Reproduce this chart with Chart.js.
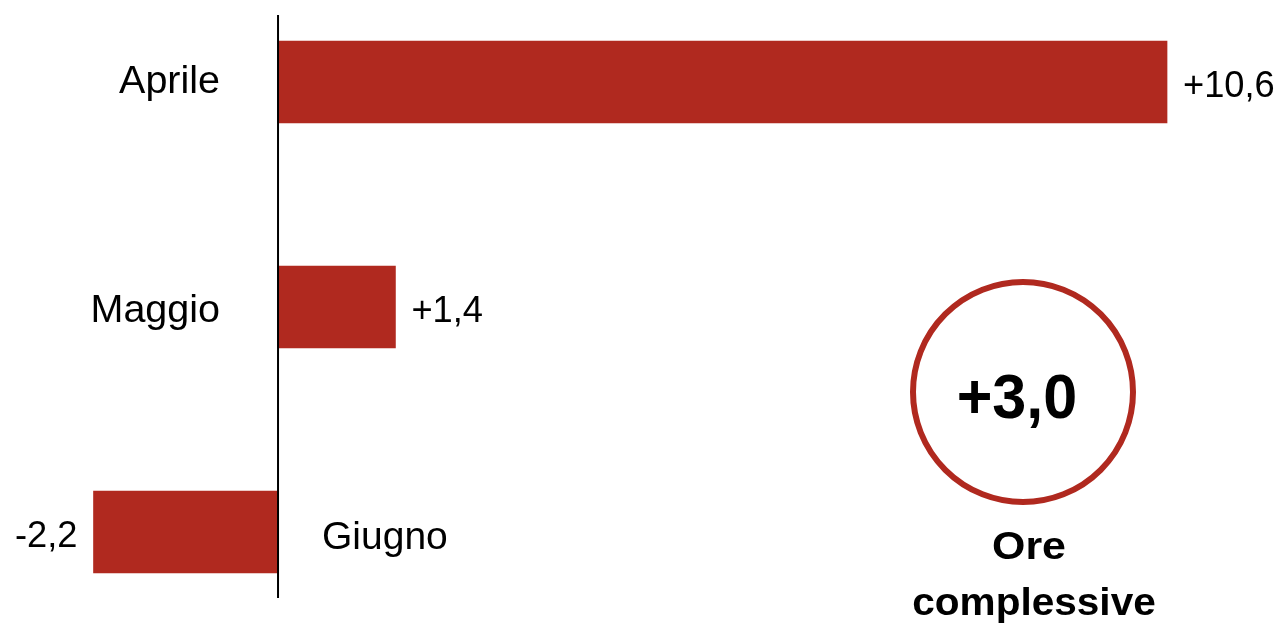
<!DOCTYPE html>
<html>
<head>
<meta charset="utf-8">
<script src="https://cdn.jsdelivr.net/npm/chart.js@4.4.1/dist/chart.umd.min.js"></script>
<style>
  html, body { margin: 0; padding: 0; background: #fff; }
  #wrap { width: 1280px; height: 624px; position: relative; }
</style>
</head>
<body>
<div id="wrap"><canvas id="oreChart"></canvas></div>
<script>
// Dati: variazione ore per mese
const mesi = ['Aprile', 'Maggio', 'Giugno'];
const variazioni = [10.6, 1.4, -2.2];
const totaleOre = 3.0;
const etichettaTotale = ['Ore', 'complessive'];

const rosso = '#b0291f';
const FONT = '"Liberation Sans", Arial, sans-serif';

// formato italiano con segno
function fmt(v) {
  const s = Math.abs(v).toFixed(1).replace('.', ',');
  return (v > 0 ? '+' : '-') + s;
}

// testo con eventuale allargamento orizzontale
function testo(ctx, t, x, y, align, font, sx) {
  ctx.save();
  ctx.translate(x, y);
  ctx.scale(sx, 1);
  ctx.font = font;
  ctx.textAlign = align;
  ctx.fillText(t, 0, 0);
  ctx.restore();
}

// asse verticale, etichette e cerchio del totale
const etichettePlugin = {
  id: 'etichette',
  afterDatasetsDraw(chart) {
    const ctx = chart.ctx;
    const xs = chart.scales.x;
    const ys = chart.scales.y;
    const x0 = xs.getPixelForValue(0);
    const spostaNome = [11, 15, 17]; // scarto della linea di base dei nomi

    ctx.save();
    // linea dello zero
    ctx.strokeStyle = '#000';
    ctx.lineWidth = 2;
    ctx.beginPath();
    ctx.moveTo(x0, 15);
    ctx.lineTo(x0, 598);
    ctx.stroke();

    ctx.fillStyle = '#000';
    ctx.textBaseline = 'alphabetic';
    mesi.forEach((m, i) => {
      const v = variazioni[i];
      const y = ys.getPixelForValue(i);
      const xe = xs.getPixelForValue(v);
      if (v >= 0) {
        testo(ctx, m, x0 - 58, y + spostaNome[i], 'right', '39.5px ' + FONT, 1);
        testo(ctx, fmt(v), xe + 16, y + 15, 'left', '37px ' + FONT, 0.98);
      } else {
        testo(ctx, m, x0 + 44, y + spostaNome[i], 'left', '39px ' + FONT, 1);
        testo(ctx, fmt(v), xe - 16, y + 15, 'right', '37px ' + FONT, 0.98);
      }
    });

    // cerchio del totale
    const cx = 1023, cy = 392;
    ctx.strokeStyle = rosso;
    ctx.lineWidth = 6;
    ctx.beginPath();
    ctx.arc(cx, cy, 110, 0, Math.PI * 2);
    ctx.stroke();

    testo(ctx, fmt(totaleOre), 1017, 418, 'center', 'bold 63px ' + FONT, 0.97);
    testo(ctx, etichettaTotale[0], 1029, 559, 'center', 'bold 39px ' + FONT, 1.1);
    testo(ctx, etichettaTotale[1], 1034, 615, 'center', 'bold 39px ' + FONT, 1.04);
    ctx.restore();
  }
};

const oreChart = new Chart(document.getElementById('oreChart'), {
  type: 'bar',
  data: {
    labels: mesi,
    datasets: [{
      data: variazioni,
      backgroundColor: rosso,
      borderWidth: 0,
      barThickness: 82,
      clip: false
    }]
  },
  options: {
    indexAxis: 'y',
    responsive: true,
    maintainAspectRatio: false,
    animation: false,
    layout: { padding: { top: 82, bottom: 92, left: 0, right: 0 } },
    plugins: {
      legend: { display: false },
      tooltip: { enabled: false }
    },
    scales: {
      x: { display: false, min: -3.315, max: 11.947 },
      y: { display: false, offset: false, grid: { offset: false } }
    }
  },
  plugins: [etichettePlugin]
});
</script>
</body>
</html>
